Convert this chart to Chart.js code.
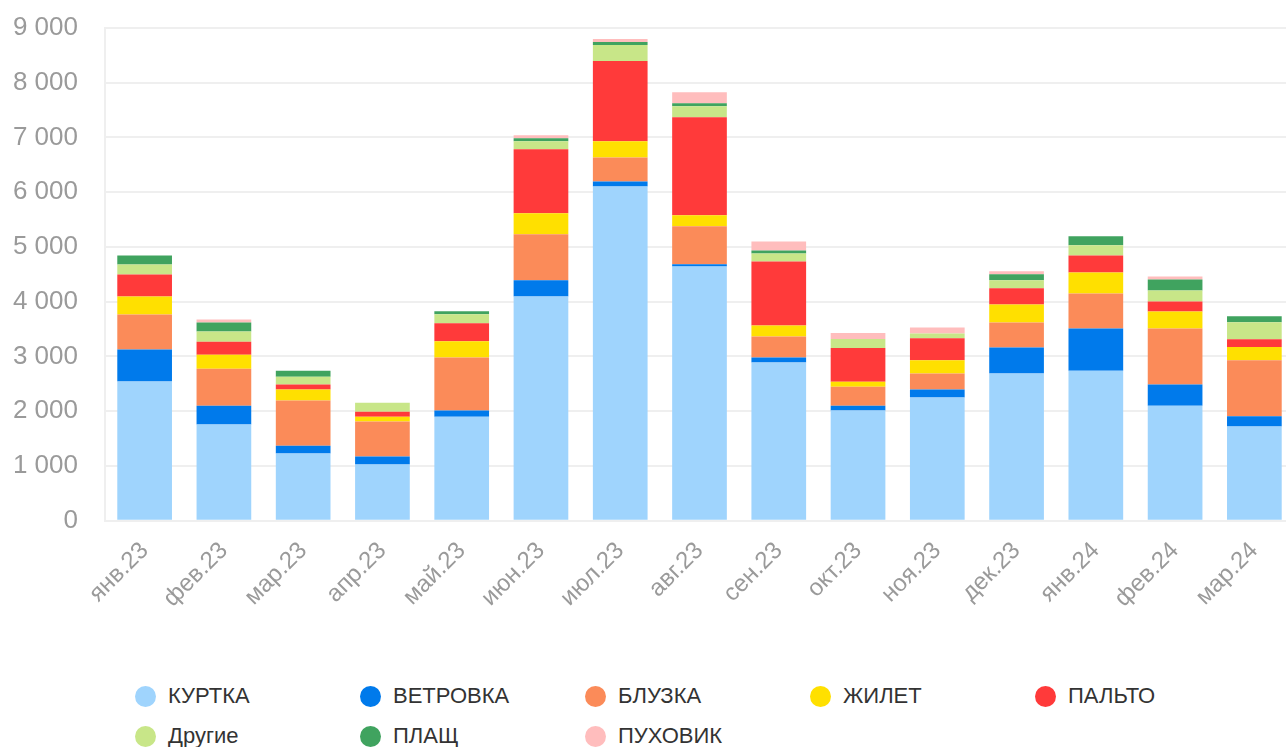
<!DOCTYPE html>
<html>
<head>
<meta charset="utf-8">
<script src="https://cdn.jsdelivr.net/npm/chart.js@4"></script>
<style>
  html, body { margin: 0; padding: 0; background: #fff; overflow: hidden; }
  #wrap { position: relative; width: 1286px; height: 747px; overflow: hidden; }
  #chart-box { position: absolute; left: 0; top: 0; width: 1294px; height: 621px; }
  #legend {
    position: absolute; left: 135px; top: 676px;
    display: grid; grid-template-columns: repeat(5, 225px); grid-auto-rows: 40px;
    font-family: "Liberation Sans", Arial, sans-serif; font-size: 22px; color: #333;
  }
  .item { display: flex; align-items: center; }
  .dot { width: 21px; height: 21px; border-radius: 50%; margin-right: 12px; flex: none; }
</style>
</head>
<body>
<div id="wrap">
  <div id="chart-box"><canvas id="chart"></canvas></div>
  <div id="legend"></div>
</div>
<script>
const months = ["янв.23", "фев.23", "мар.23", "апр.23", "май.23", "июн.23", "июл.23", "авг.23",
    "сен.23", "окт.23", "ноя.23", "дек.23", "янв.24", "фев.24", "мар.24"];

const kurtka   = [2540, 1755, 1225, 1025, 1900, 4095, 6105, 4645, 2890, 2010, 2250, 2690, 2740, 2100, 1720];
const vetrovka = [585, 345, 145, 145, 110, 295, 90, 40, 90, 90, 145, 475, 770, 385, 185];
const bluzka   = [640, 675, 825, 640, 970, 840, 440, 695, 385, 345, 295, 455, 640, 1025, 1025];
const zhilet   = [330, 255, 200, 90, 295, 385, 295, 200, 200, 90, 240, 330, 385, 310, 240];
const palto    = [400, 240, 90, 90, 330, 1170, 1465, 1790, 1170, 620, 400, 295, 310, 185, 145];
const drugie   = [185, 185, 145, 165, 165, 145, 295, 200, 145, 165, 90, 145, 185, 200, 310];
const plashch  = [165, 165, 110, 0, 55, 55, 55, 55, 55, 0, 0, 110, 165, 200, 110];
const puhovik  = [0, 55, 0, 0, 0, 55, 55, 200, 165, 110, 110, 55, 0, 55, 0];

const yTicks = [0, 1000, 2000, 3000, 4000, 5000, 6000, 7000, 8000, 9000];

const series = [
    { label: "КУРТКА", data: kurtka, color: "#9fd4fd" },
    { label: "ВЕТРОВКА", data: vetrovka, color: "#007aeb" },
    { label: "БЛУЗКА", data: bluzka, color: "#fb8b59" },
    { label: "ЖИЛЕТ", data: zhilet, color: "#ffe000" },
    { label: "ПАЛЬТО", data: palto, color: "#ff3a3a" },
    { label: "Другие", data: drugie, color: "#c8e688" },
    { label: "ПЛАЩ", data: plashch, color: "#40a35f" },
    { label: "ПУХОВИК", data: puhovik, color: "#ffbdbd" }
];

function fmt(v) {
    return String(v).replace(/\B(?=(\d{3})+(?!\d))/g, " ");
}

const chart = new Chart(document.getElementById("chart"), {
    type: "bar",
    data: {
        labels: months,
        datasets: series.map(s => ({
            label: s.label,
            data: s.data,
            backgroundColor: s.color,
            borderWidth: 0,
            categoryPercentage: 1,
            barPercentage: 0.69
        }))
    },
    options: {
        responsive: true,
        maintainAspectRatio: false,
        animation: false,
        layout: { padding: { left: 13, top: 28, right: 0, bottom: 0 } },
        plugins: {
            legend: { display: false },
            tooltip: { enabled: false }
        },
        scales: {
            x: {
                stacked: true,
                grid: { display: false },
                border: { display: false },
                ticks: {
                    color: "#9a9a9a",
                    font: { family: "Liberation Sans", size: 24 },
                    maxRotation: 45,
                    minRotation: 45,
                    padding: 8
                },
                // rotated first label must not push the plot area to the right
                afterFit: scale => { scale.paddingLeft = 0; }
            },
            y: {
                stacked: true,
                min: 0,
                max: 9000,
                afterBuildTicks: axis => { axis.ticks = yTicks.map(v => ({ value: v })); },
                afterFit: axis => {
                    axis.width = 92;
                    axis.paddingTop = 0;
                    axis.paddingBottom = 0;
                },
                grid: { color: "#efefef", lineWidth: 2, drawTicks: false },
                border: { display: true, color: "#efefef", width: 2 },
                ticks: {
                    color: "#9a9a9a",
                    font: { family: "Liberation Sans", size: 26 },
                    padding: 27,
                    callback: v => fmt(v)
                }
            }
        }
    }
});

// legend as a grid below the chart, built from the chart's datasets
const legendEl = document.getElementById("legend");
chart.data.datasets.forEach(ds => {
    const item = document.createElement("div");
    item.className = "item";
    const dot = document.createElement("span");
    dot.className = "dot";
    dot.style.background = ds.backgroundColor;
    const txt = document.createElement("span");
    txt.textContent = ds.label;
    item.appendChild(dot);
    item.appendChild(txt);
    legendEl.appendChild(item);
});
</script>
</body>
</html>
